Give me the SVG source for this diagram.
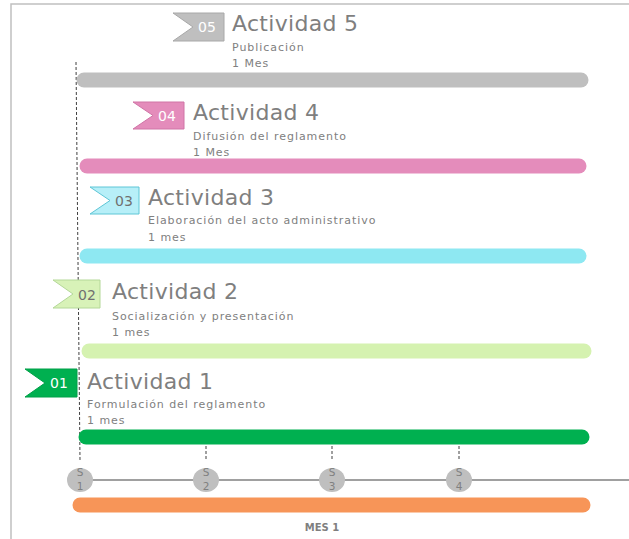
<svg xmlns="http://www.w3.org/2000/svg" width="629" height="539" viewBox="0 0 629 539">
<style>
.frame{stroke:#c0c0c0;stroke-width:1.5;fill:none}
.bar{stroke-linecap:round;stroke-width:15;fill:none}
.title{font-family:"DejaVu Sans",sans-serif;font-size:22px;fill:#7f7f7f;letter-spacing:0.3px}
.sub{font-family:"DejaVu Sans",sans-serif;font-size:11px;fill:#808080;letter-spacing:0.95px}
.ftxt{font-family:"DejaVu Sans",sans-serif;font-size:14px;text-anchor:middle}
.dash{stroke:#404040;stroke-width:1;stroke-dasharray:3 2;fill:none}
.sc{fill:#bfbfbf}
.st{font-family:"DejaVu Sans",sans-serif;font-size:10.5px;fill:#808080;text-anchor:middle}
</style>
<rect width="629" height="539" fill="#ffffff"/>
<path class="frame" d="M11,539 V4 H629"/>
<g id="connectors">
<line class="dash" x1="76" y1="62" x2="80" y2="460"/>
<line class="dash" x1="206" y1="446" x2="206" y2="460"/>
<line class="dash" x1="332" y1="446" x2="332" y2="460"/>
<line class="dash" x1="459" y1="446" x2="459" y2="460"/>
<line x1="80" y1="480" x2="629" y2="480" stroke="#808080" stroke-width="1.5"/>
</g>
<g id="act5">
<line class="bar" x1="84" y1="80" x2="581" y2="80" stroke="#bfbfbf"/>
<polygon points="173,13 224,13 224,41 173,41 193,27" fill="#bfbfbf" stroke="#a8a8a8" stroke-width="1"/>
<text class="ftxt" x="207" y="32" fill="#ffffff">05</text>
<text class="title" x="232" y="31">Actividad 5</text>
<text class="sub" x="232" y="51">Publicación</text>
<text class="sub" x="232" y="67">1 Mes</text>
</g>
<g id="act4">
<line class="bar" x1="87" y1="166" x2="579" y2="166" stroke="#e48cbb"/>
<polygon points="133,102 184,102 184,129 133,129 153,115.5" fill="#e48cbb" stroke="#d074a6" stroke-width="1"/>
<text class="ftxt" x="167" y="121" fill="#ffffff">04</text>
<text class="title" x="193" y="120">Actividad 4</text>
<text class="sub" x="193" y="140">Difusión del reglamento</text>
<text class="sub" x="193" y="156">1 Mes</text>
</g>
<g id="act3">
<line class="bar" x1="87" y1="256" x2="579" y2="256" stroke="#8ee8f2"/>
<polygon points="90,187 139,187 139,214 90,214 110,200.5" fill="#b7eff8" stroke="#5ec6d6" stroke-width="1"/>
<text class="ftxt" x="124" y="206" fill="#707070">03</text>
<text class="title" x="148" y="205">Actividad 3</text>
<text class="sub" x="148" y="224">Elaboración del acto administrativo</text>
<text class="sub" x="148" y="241">1 mes</text>
</g>
<g id="act2">
<line class="bar" x1="89" y1="351" x2="584" y2="351" stroke="#d5f2b0" stroke-width="17"/>
<polygon points="53,280 100,280 100,308 53,308 73,294" fill="#d8f2b8" stroke="#b4d898" stroke-width="1"/>
<text class="ftxt" x="87" y="300" fill="#707070">02</text>
<text class="title" x="112" y="299">Actividad 2</text>
<text class="sub" x="112" y="320">Socialización y presentación</text>
<text class="sub" x="112" y="336">1 mes</text>
</g>
<g id="act1">
<line class="bar" x1="86" y1="437" x2="582" y2="437" stroke="#00b050"/>
<polygon points="25,369 77,369 77,397 25,397 45,383" fill="#00b050" stroke="#00a048" stroke-width="1"/>
<text class="ftxt" x="59" y="388" fill="#ffffff">01</text>
<text class="title" x="87" y="389">Actividad 1</text>
<text class="sub" x="87" y="408">Formulación del reglamento</text>
<text class="sub" x="87" y="424">1 mes</text>
</g>
<g id="s1">
<ellipse class="sc" cx="80" cy="480" rx="13" ry="12"/>
<text class="st" x="80" y="476">S</text>
<text class="st" x="80" y="490">1</text>
</g>
<g id="s2">
<ellipse class="sc" cx="206" cy="480" rx="13" ry="12"/>
<text class="st" x="206" y="476">S</text>
<text class="st" x="206" y="490">2</text>
</g>
<g id="s3">
<ellipse class="sc" cx="332" cy="480" rx="13" ry="12"/>
<text class="st" x="332" y="476">S</text>
<text class="st" x="332" y="490">3</text>
</g>
<g id="s4">
<ellipse class="sc" cx="459" cy="480" rx="13" ry="12"/>
<text class="st" x="459" y="476">S</text>
<text class="st" x="459" y="490">4</text>
</g>
<g id="mes1">
<line class="bar" x1="80" y1="505" x2="583" y2="505" stroke="#f79558" stroke-width="14"/>
<text x="322" y="531" font-family="DejaVu Sans, sans-serif" font-size="10" font-weight="bold" fill="#7f7f7f" text-anchor="middle">MES 1</text>
</g>
</svg>
